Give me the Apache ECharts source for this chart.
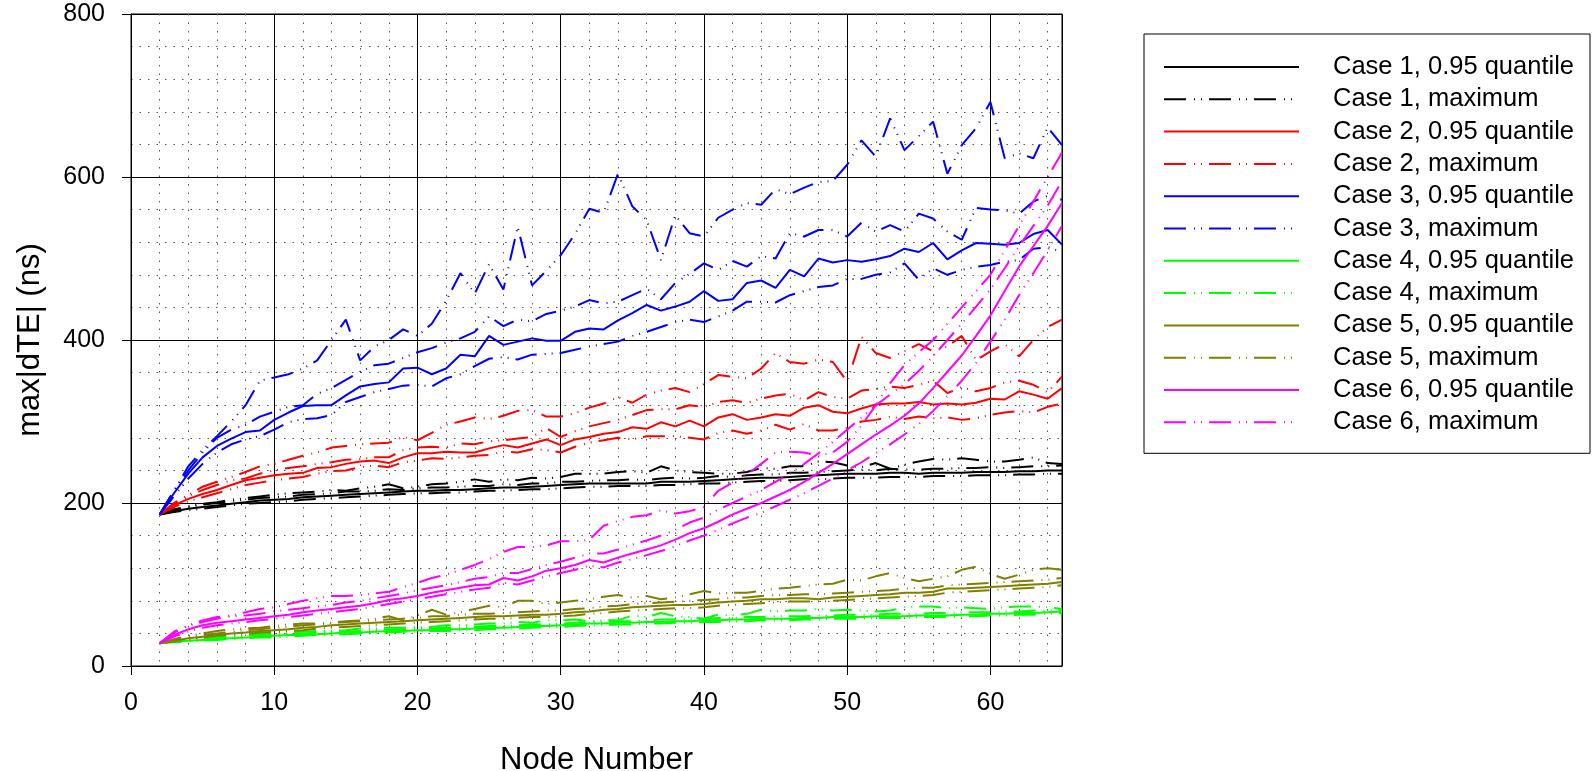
<!DOCTYPE html>
<html><head><meta charset="utf-8">
<script src="https://cdn.jsdelivr.net/npm/echarts/dist/echarts.min.js"></script>
<style>html,body{margin:0;padding:0;background:#fff}#c{width:1594px;height:771px}</style>
</head><body><div id="c"></div><script>
const nodes = [2,3,4,5,6,7,8,9,10,11,12,13,14,15,16,17,18,19,20,21,22,23,24,25,26,27,28,29,30,31,32,33,34,35,36,37,38,39,40,41,42,43,44,45,46,47,48,49,50,51,52,53,54,55,56,57,58,59,60,61,62,63,64,65];
const xTicks = [0,10,20,30,40,50,60];
const yTicks = [0,200,400,600,800];

// Case 1 (black)
const c1q  = [186,190,193,195,197,199,201,203,204,205, 207,208,209,210,211,212,213,214,215,215, 216,216,217,218,219,219,220,221,222,223, 224,224,224,224,224,226,226,226,227,228, 229,230,231,231,232,233,234,235,236,236, 236,237,237,236,237,237,237,238,238,238, 239,239,240,240];
const c1hi = [186,192,195,198,200,202,204,206,207,208, 210,211,212,214,214,215,217,216,218,219, 219,220,221,221,223,222,224,224,226,226, 227,228,228,229,228,230,231,230,231,233, 232,234,235,235,237,237,238,239,240,241, 240,242,241,241,242,242,243,243,244,243, 244,245,245,246];
const c1lo = [186,189,191,193,195,197,199,200,201,202, 204,205,206,207,208,209,210,211,212,212, 213,213,214,215,215,216,217,217,218,219, 220,220,221,221,221,222,222,223,224,224, 225,226,227,227,228,229,229,230,231,231, 231,232,232,232,233,233,233,234,234,234, 235,235,236,236];
const c1max= [186,192,196,199,201,204,206,208,210,212, 213,214,216,215,218,220,223,218,220,223, 224,226,229,226,229,228,231,230,232,236, 236,236,238,239,237,245,240,238,237,236, 236,238,243,242,245,245,251,250,246,244, 249,242,247,251,254,253,255,253,251,251, 253,256,249,248];
// Case 2 (red)
const c2q  = [186,197,205,211,216,222,228,231,234,236, 237,243,244,248,251,252,249,256,261,261, 263,262,262,267,271,268,273,278,271,278, 281,285,287,293,291,299,294,301,294,305, 309,302,305,309,307,317,320,312,310,316, 321,322,322,324,321,322,321,323,328,327, 337,333,328,341];
const c2hi = [186,199,208,216,222,228,230,236,240,243, 245,248,250,253,254,256,256,265,268,269, 268,273,272,276,277,279,281,292,281,288, 294,298,302,308,314,315,315,320,318,324, 326,323,328,332,334,326,336,330,328,338, 340,343,341,345,350,335,342,337,341,348, 350,345,336,355];
const c2lo = [186,195,202,207,212,217,222,225,228,230, 232,236,239,240,244,246,244,250,252,255, 254,256,258,259,263,262,266,265,262,269, 274,277,280,278,282,282,282,280,278,286, 289,285,289,296,290,297,289,289,292,300, 302,306,303,306,304,305,302,304,308,311, 313,311,318,322];
const c2max= [186,200,210,220,226,232,238,245,248,253, 258,262,268,270,272,273,274,281,277,286, 296,300,305,303,307,313,314,306,306,310, 317,322,330,323,333,338,341,336,346,357, 355,353,365,384,373,371,376,373,349,404, 384,378,386,395,386,392,405,375,386,395, 380,400,416,425];
// Case 3 (blue)
const c3q  = [186,212,236,256,270,279,287,289,302,311, 319,320,320,332,343,346,348,365,366,358, 365,382,380,405,394,398,402,399,399,410, 414,413,424,433,443,436,441,447,460,448, 450,470,473,464,486,478,500,495,498,496, 499,503,512,508,519,499,510,519,518,517, 519,530,535,517];
const c3hi = [186,215,240,262,280,290,296,306,312,318, 320,334,341,351,361,369,371,378,385,390, 397,402,410,429,417,425,423,432,436,441, 449,445,447,455,463,450,470,481,494,486, 497,490,503,500,531,527,535,535,527,544, 533,541,533,555,549,533,523,562,560,559, 555,570,577,572];
const c3lo = [186,208,230,248,262,272,278,282,290,299, 303,304,308,324,330,336,340,344,345,343, 353,358,368,377,379,376,382,383,384,388, 392,395,398,405,410,416,422,425,422,429, 436,447,447,446,455,460,465,467,475,475, 480,483,494,474,488,480,486,490,492,496, 498,512,514,508];
const c3max= [186,215,245,265,282,300,320,350,354,358, 365,375,400,425,375,392,400,413,405,420, 448,482,457,493,462,539,467,485,504,530, 561,556,604,564,547,498,553,531,527,550, 560,568,566,585,579,587,594,595,615,645, 625,672,633,650,668,604,639,660,692,623, 629,623,661,639];
// Case 4 (green)
const c4q  = [28,30,31,32,33,34,35,36,37,38, 38,39,40,41,41,42,43,43,44,44, 45,45,46,47,47,48,49,49,50,51, 52,52,53,53,54,54,55,55,56,56, 57,57,58,58,58,59,59,60,60,60, 61,61,61,62,62,62,63,63,64,64, 65,65,66,67];
const c4hi = [28,31,32,33,35,36,37,38,39,39, 40,41,42,42,43,44,45,45,46,46, 47,47,48,49,49,50,51,51,52,53, 54,54,55,55,56,57,57,58,58,59, 59,60,60,61,61,61,62,62,63,63, 63,64,64,64,65,65,66,66,66,67, 67,68,68,69];
const c4lo = [28,29,30,31,32,33,34,35,35,36, 37,38,38,39,40,40,41,42,42,43, 43,44,44,45,46,46,47,48,48,49, 50,50,51,51,52,52,53,53,54,54, 55,55,56,56,56,57,57,58,58,58, 59,59,59,60,60,60,61,61,62,62, 63,63,64,65];
const c4max= [28,31,33,34,35,37,38,40,40,41, 42,43,43,44,46,46,47,47,48,48, 50,50,51,52,52,54,53,56,56,57, 55,56,56,62,60,65,61,60,58,63, 62,64,69,67,68,68,70,68,69,68, 67,68,72,73,73,71,72,71,70,72, 73,73,72,70];
// Case 5 (olive)
const c5q  = [28,31,34,36,38,40,41,43,44,45, 47,48,50,51,52,53,54,55,56,57, 58,59,60,61,61,62,63,63,64,66, 67,69,70,72,73,74,75,75,76,78, 79,80,82,82,83,83,82,84,85,86, 87,88,90,90,91,95,95,96,97,98, 99,100,101,103];
const c5hi = [28,32,36,38,40,42,44,45,47,48, 50,51,53,54,55,56,57,58,59,61, 61,63,64,64,65,66,67,68,68,70, 71,73,74,76,77,78,79,80,81,82, 84,84,86,87,87,88,88,89,90,91, 92,93,95,96,96,99,100,101,102,103, 104,105,106,108];
const c5lo = [28,30,33,35,37,38,39,41,42,43, 44,46,47,48,49,50,51,52,53,54, 55,56,57,58,58,59,60,60,61,62, 64,65,67,68,69,70,71,71,72,74, 75,76,77,78,79,79,79,80,81,82, 83,84,85,86,87,90,91,92,93,94, 95,96,97,99];
const c5max= [28,33,37,40,43,45,46,47,49,51, 52,52,53,55,56,58,61,56,62,69, 63,66,70,74,72,80,80,76,78,80, 82,85,87,84,86,82,84,88,92,89, 90,90,92,95,96,98,100,101,106,105, 110,114,108,104,107,110,118,122,113,107, 112,118,120,118];
// Case 6 (magenta)
const c6q  = [28,38,45,50,53,55,57,59,61,63, 66,68,70,72,74,77,81,83,86,90, 93,96,99,100,108,105,110,117,120,124, 130,127,133,138,143,148,155,163,169,177, 186,193,200,208,216,226,237,248,260,272, 284,295,307,322,341,361,381,405,430,460, 490,515,540,568];
const c6hi = [28,41,49,54,58,61,62,64,67,69, 71,73,75,78,80,83,86,89,93,96, 99,103,107,109,114,114,119,124,128,133, 138,138,143,149,154,160,167,176,182,192, 200,208,216,226,236,248,261,275,290,305, 320,333,346,362,380,400,420,441,462,488, 515,540,565,595];
const c6lo = [28,36,42,47,50,52,54,56,58,60, 62,64,66,68,70,73,76,79,82,85, 88,91,94,96,102,100,105,110,114,118, 123,121,127,131,136,141,147,154,160,167, 175,182,188,196,204,212,221,230,240,250, 261,272,284,297,313,331,350,372,398,425, 455,482,510,540];
const c6max= [28,42,50,56,60,62,66,70,72,76, 80,83,86,86,87,89,91,97,102,108, 112,118,124,131,140,146,146,148,153,153, 155,172,178,183,185,191,187,190,195,215, 225,235,248,262,263,262,258,262,275,295, 320,347,369,385,400,420,440,460,480,510, 540,570,600,630];

const caseNames = ['Case 1','Case 2','Case 3','Case 4','Case 5','Case 6'];
const caseColors = ['#000000','#ff0000','#0000ff','#00ff00','#808000','#ff00ff'];
const qData = [c1q,c2q,c3q,c4q,c5q,c6q];
const hiData = [c1hi,c2hi,c3hi,c4hi,c5hi,c6hi];
const loData = [c1lo,c2lo,c3lo,c4lo,c5lo,c6lo];
const maxData = [c1max,c2max,c3max,c4max,c5max,c6max];

const FONT = '"Liberation Sans", Arial, Helvetica, sans-serif';
const DASH = [22, 8, 1, 6, 1, 7];

function mk(name, color, vals, dashed) {
  return {
    name: name, type: 'line', silent: true, symbol: 'none', showSymbol: false,
    data: nodes.map((x, i) => [x, vals[i]]),
    lineStyle: { color: color, width: 2, type: dashed ? DASH : 'solid', cap: 'butt' },
    itemStyle: { color: 'rgba(0,0,0,0)', borderWidth: 0 },
    emphasis: { disabled: true }
  };
}

const series = [];
const legendNames = [];
for (let k = 0; k < 6; k++) {
  const c = caseColors[k];
  series.push(mk(caseNames[k] + ', upper', c, hiData[k], true));
  series.push(mk(caseNames[k] + ', lower', c, loData[k], true));
  series.push(mk(caseNames[k] + ', 0.95 quantile', c, qData[k], false));
  series.push(mk(caseNames[k] + ', maximum', c, maxData[k], true));
  legendNames.push(caseNames[k] + ', 0.95 quantile');
  legendNames.push(caseNames[k] + ', maximum');
}

const chart = echarts.init(document.getElementById('c'), null, { renderer: 'canvas' });
chart.setOption({
  animation: false,
  backgroundColor: '#ffffff',
  textStyle: { fontFamily: FONT, color: '#000' },
  grid: { left: 131, top: 14, right: 532, bottom: 105, containLabel: false, outerBoundsMode: 'none',
          show: true, borderColor: '#000', borderWidth: 1, backgroundColor: 'transparent' },
  legend: {
    data: legendNames, orient: 'vertical', left: 1144, top: 34,
    padding: [18, 16, 16, 19], itemWidth: 135, itemHeight: 14, itemGap: 2.3,
    borderColor: '#000', borderWidth: 1, backgroundColor: '#fff', borderRadius: 0,
    selectedMode: false,
    itemStyle: { color: 'rgba(0,0,0,0)', borderWidth: 0, opacity: 0 },
    textStyle: { fontFamily: FONT, fontSize: 25.5, color: '#000', lineHeight: 30, padding: [0, 0, 0, 29] }
  },
  xAxis: {
    type: 'value', min: xTicks[0], max: 65, interval: xTicks[1] - xTicks[0],
    name: 'Node Number', nameLocation: 'middle', nameGap: 79,
    nameTextStyle: { fontFamily: FONT, fontSize: 31, color: '#000' },
    axisLine: { show: true, onZero: false, lineStyle: { color: '#000', width: 1 } },
    axisTick: { show: true, inside: false, length: 9, lineStyle: { color: '#000', width: 1 } },
    axisLabel: { show: true, margin: 25, fontFamily: FONT, fontSize: 25, color: '#000', showMaxLabel: false,
                 formatter: v => (xTicks.indexOf(v) >= 0 ? String(v) : '') },
    splitLine: { show: true, lineStyle: { color: '#000', width: 1 } },
    minorTick: { show: false, splitNumber: 5 },
    minorSplitLine: { show: true, lineStyle: { color: '#555', width: 1, type: [1.5, 7] } }
  },
  yAxis: {
    type: 'value', min: yTicks[0], max: yTicks[yTicks.length - 1], interval: yTicks[1] - yTicks[0],
    name: 'max|dTE| (ns)', nameLocation: 'middle', nameGap: 85, nameRotate: 90,
    nameTextStyle: { fontFamily: FONT, fontSize: 31, color: '#000' },
    axisLine: { show: true, lineStyle: { color: '#000', width: 1 } },
    axisTick: { show: true, inside: false, length: 9, lineStyle: { color: '#000', width: 1 } },
    axisLabel: { show: true, margin: 26, fontFamily: FONT, fontSize: 25, color: '#000' },
    splitLine: { show: true, lineStyle: { color: '#000', width: 1 } },
    minorTick: { show: false, splitNumber: 5 },
    minorSplitLine: { show: true, lineStyle: { color: '#555', width: 1, type: [1.5, 7] } }
  },
  series: series
});
</script></body></html>
